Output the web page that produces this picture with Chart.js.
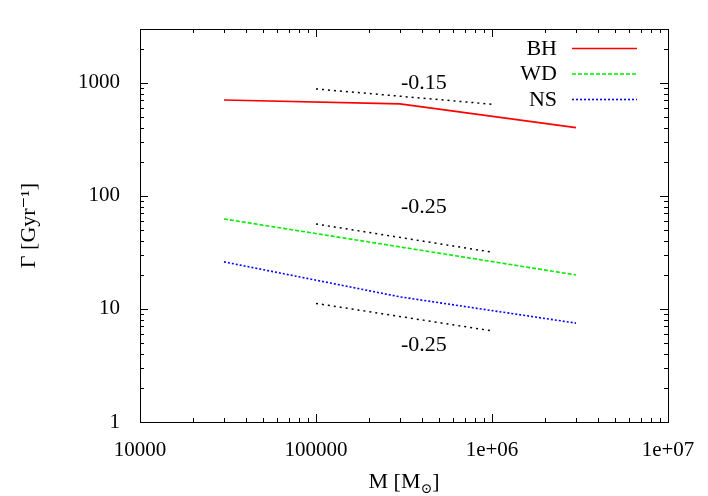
<!DOCTYPE html>
<html lang="en">
<head>
    <meta charset="UTF-8">
    <title>Gamma vs M</title>
    <script src="https://cdn.jsdelivr.net/npm/chart.js"></script>
    <style>
        html, body { margin: 0; padding: 0; background: #fff; }
        #wrap { width: 708px; height: 496px; }
    </style>
</head>
<body>
<div id="wrap"><canvas id="rateChart" width="708" height="496"></canvas></div>
<script>
// data
const masses = [3e4, 3e5, 3e6];
const bhRate = [707, 652, 402];
const wdRate = [62.6, 35.4, 20.0];
const nsRate = [26.1, 12.8, 7.5];

// slope guide lines
const guideMass = [1e5, 1e6];
const guideTop = [885, 648];
const guideMid = [56.5, 31.8];
const guideLow = [11.2, 6.4];
const guideLabels = ['-0.15', '-0.25', '-0.25'];
const guideLabelAt = [[4.1e5, 1000], [4.1e5, 79], [4.1e5, 4.8]];

const xTicks = [1e4, 1e5, 1e6, 1e7];
const yTicks = [1, 10, 100, 1000];

const serif = '"Liberation Serif", "DejaVu Serif", serif';
const fs = 21;

function pts(xs, ys) {
    return xs.map((x, i) => ({ x: x, y: ys[i] }));
}

function minorsFor(decades, max) {
    const out = [];
    decades.forEach(d => {
        for (let k = 1; k < 10; k++) {
            const v = d * k;
            if (v <= max) out.push({ value: v, major: k === 1 });
        }
    });
    return out;
}

const boxAndTicks = {
    id: 'boxAndTicks',
    afterDraw(chart) {
        const ctx = chart.ctx;
        const a = chart.chartArea;
        const xs = chart.scales.x, ys = chart.scales.y;
        ctx.save();
        ctx.strokeStyle = '#000';
        ctx.lineWidth = 1;
        ctx.setLineDash([]);
        ctx.strokeRect(a.left + 0.5, a.top + 0.5, a.right - a.left, a.bottom - a.top);
        ctx.beginPath();
        xs.ticks.forEach(t => {
            const p = Math.round(xs.getPixelForValue(t.value)) + 0.5;
            const len = t.major ? 8 : 4;
            ctx.moveTo(p, a.bottom); ctx.lineTo(p, a.bottom - len);
            ctx.moveTo(p, a.top); ctx.lineTo(p, a.top + len);
        });
        ys.ticks.forEach(t => {
            const p = Math.round(ys.getPixelForValue(t.value)) + 0.5;
            const len = t.major ? 8 : 4;
            ctx.moveTo(a.left, p); ctx.lineTo(a.left + len, p);
            ctx.moveTo(a.right, p); ctx.lineTo(a.right - len, p);
        });
        ctx.stroke();

        // slope labels
        ctx.fillStyle = '#000';
        ctx.font = '22px ' + serif;
        ctx.textAlign = 'center';
        ctx.textBaseline = 'middle';
        guideLabels.forEach((s, i) => {
            ctx.fillText(s, xs.getPixelForValue(guideLabelAt[i][0]), ys.getPixelForValue(guideLabelAt[i][1]));
        });

        // legend: text right aligned, sample on the right
        const legendSets = chart.data.datasets.filter(d => d.inLegend);
        legendSets.forEach((d, i) => {
            const y = a.top + 19 + i * 25.5;
            ctx.textAlign = 'right';
            ctx.fillText(d.label, a.right - 111, y + 1);
            ctx.beginPath();
            ctx.strokeStyle = d.borderColor;
            ctx.lineWidth = d.borderWidth;
            ctx.setLineDash(d.borderDash || []);
            ctx.moveTo(a.right - 96, y + 0.5);
            ctx.lineTo(a.right - 31, y + 0.5);
            ctx.stroke();
        });
        ctx.setLineDash([]);

        // x title with subscript sun
        ctx.fillStyle = '#000';
        ctx.textAlign = 'left';
        ctx.textBaseline = 'alphabetic';
        const cx = (a.left + a.right) / 2;
        const base = 488;
        ctx.font = '22px ' + serif;
        const w1 = ctx.measureText('M [M').width;
        ctx.font = '14px ' + serif;
        const w2 = ctx.measureText('\u2299').width;
        ctx.font = '22px ' + serif;
        const w3 = ctx.measureText(']').width;
        let x0 = cx - (w1 + w2 + w3) / 2;
        ctx.fillText('M [M', x0, base);
        ctx.font = '14px ' + serif;
        ctx.fillText('\u2299', x0 + w1, base + 5);
        ctx.font = '22px ' + serif;
        ctx.fillText(']', x0 + w1 + w2, base);
        ctx.restore();
    }
};

new Chart(document.getElementById('rateChart').getContext('2d'), {
    type: 'line',
    data: {
        datasets: [
            { label: 'BH', data: pts(masses, bhRate), borderColor: '#ff0000', borderWidth: 1.6, inLegend: true },
            { label: 'WD', data: pts(masses, wdRate), borderColor: '#00ee00', borderWidth: 1.6, borderDash: [4, 2], inLegend: true },
            { label: 'NS', data: pts(masses, nsRate), borderColor: '#0000ff', borderWidth: 1.6, borderDash: [2, 2], inLegend: true },
            { label: 'g1', data: pts(guideMass, guideTop), borderColor: '#000', borderWidth: 1.5, borderDash: [2, 4] },
            { label: 'g2', data: pts(guideMass, guideMid), borderColor: '#000', borderWidth: 1.5, borderDash: [2, 4] },
            { label: 'g3', data: pts(guideMass, guideLow), borderColor: '#000', borderWidth: 1.5, borderDash: [2, 4] }
        ]
    },
    options: {
        responsive: false,
        animation: false,
        layout: { padding: { top: 29, right: 40, left: 0, bottom: 0 } },
        elements: { point: { radius: 0 }, line: { tension: 0, fill: false } },
        plugins: { legend: { display: false }, tooltip: { enabled: false } },
        scales: {
            x: {
                type: 'logarithmic',
                min: 1e4,
                max: 1e7,
                grid: { display: false },
                border: { display: false },
                afterBuildTicks: s => { s.ticks = minorsFor([1e4, 1e5, 1e6, 1e7], 1e7); },
                afterFit: s => { s.height = 74; },
                ticks: {
                    autoSkip: false,
                    maxRotation: 0,
                    padding: 8,
                    color: '#000',
                    font: { family: serif, size: fs },
                    callback: v => xTicks.includes(v) ? (v >= 1e6 ? '1e+0' + Math.round(Math.log10(v)) : String(v)) : ''
                }
            },
            y: {
                type: 'logarithmic',
                min: 1,
                max: 3000,
                grid: { display: false },
                border: { display: false },
                afterBuildTicks: s => { s.ticks = minorsFor([1, 10, 100, 1000], 3000); },
                afterFit: s => { s.width = 140; },
                ticks: {
                    autoSkip: false,
                    padding: 12,
                    color: '#000',
                    font: { family: serif, size: fs },
                    callback: v => yTicks.includes(v) ? String(v) : ''
                },
                title: {
                    display: true,
                    text: 'Γ [Gyr⁻¹]',
                    color: '#000',
                    font: { family: serif, size: 22 },
                    padding: { top: 16, bottom: 0 }
                }
            }
        }
    },
    plugins: [boxAndTicks]
});
</script>
</body>
</html>
